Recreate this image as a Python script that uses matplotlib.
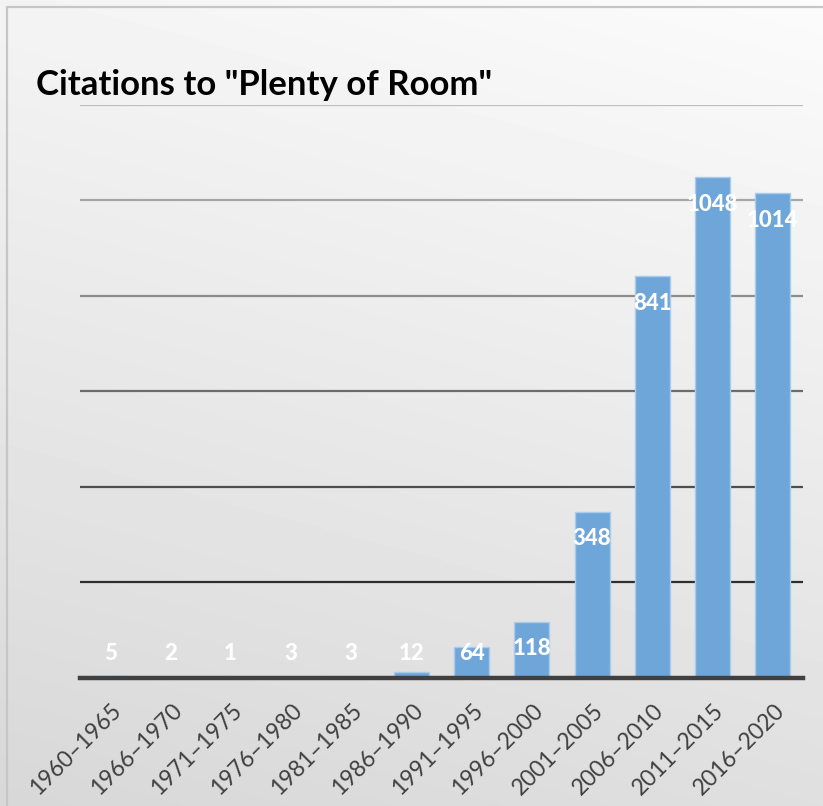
import numpy as np
import matplotlib
matplotlib.use("Agg")
import matplotlib.pyplot as plt
from matplotlib.patches import Rectangle
from matplotlib.transforms import ScaledTranslation

periods = ["1960–1965", "1966–1970", "1971–1975", "1976–1980", "1981–1985",
           "1986–1990", "1991–1995", "1996–2000", "2001–2005", "2006–2010",
           "2011–2015", "2016–2020"]
citations = [5, 2, 1, 3, 3, 12, 64, 118, 348, 841, 1048, 1014]
grid_levels = [200, 400, 600, 800, 1000, 1200]
grid_colors = ["#2e2e2e", "#4e4e4e", "#6c6c6c", "#8c8c8c", "#a6a6a6", "#bebebe"]

plt.rcParams['font.family'] = ['Lato', 'DejaVu Sans']

W, H = 823, 806
fig = plt.figure(figsize=(W / 100, H / 100), dpi=100)

# soft diagonal gradient background
bg = fig.add_axes([0, 0, 1, 1], zorder=-5)
yy, xx = np.mgrid[0:1:200j, 0:1:200j]
shade = 0.985 - 0.11 * yy - 0.03 * (1 - xx)
bg.imshow(shade, cmap='gray', vmin=0, vmax=1, extent=[0, 1, 0, 1],
          origin='upper', aspect='auto', interpolation='bilinear')
bg.add_patch(Rectangle((6.5 / W, -0.1), 1.2, 1.1 - 6.5 / H,
                       transform=bg.transAxes, fill=False,
                       edgecolor='#c6c6c6', linewidth=1.6))
bg.set_xlim(0, 1)
bg.set_ylim(0, 1)
bg.axis('off')

ax = fig.add_axes([80 / W, 1 - 678 / H, 723 / W, (678 - 104.5) / H])
ax.set_facecolor('none')
x = np.arange(len(periods))
ax.bar(x, citations, width=0.58, color='#6fa6d9', edgecolor='#a9cbec',
       linewidth=1, zorder=3)

for lvl, c in zip(grid_levels, grid_colors):
    ax.axhline(lvl, color=c, linewidth=1.6, zorder=1)
ax.axhline(0, color='#404040', linewidth=3.2, zorder=4, clip_on=False)

for xi, v in zip(x, citations):
    ax.text(xi, max(v - 57, 52), str(v), ha='center', va='center',
            color='white', fontsize=16, fontweight='black', zorder=5)

ax.set_xlim(-0.5, len(periods) - 0.5)
ax.set_ylim(0, 1200)
ax.set_yticks([])
ax.set_xticks(x)
ax.set_xticklabels(periods, rotation=45, ha='right', va='center',
                   rotation_mode='anchor', fontsize=16.5, color='#404040')
ax.tick_params(axis='x', length=0, pad=21)
shift = ScaledTranslation(0.08, 0, fig.dpi_scale_trans)
for lab in ax.get_xticklabels():
    lab.set_transform(lab.get_transform() + shift)
for s in ax.spines.values():
    s.set_visible(False)

fig.text(36 / W, 1 - 95 / H, 'Citations to "Plenty of Room"', fontsize=25,
         fontweight='bold', color='black', va='baseline', ha='left')

fig.savefig('out.png', dpi=100)
